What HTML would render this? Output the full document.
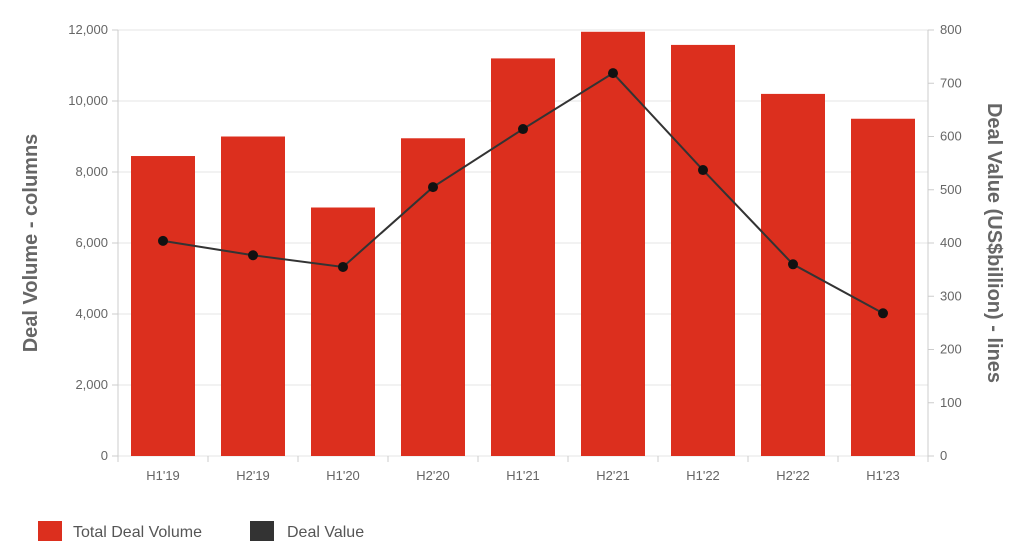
<!DOCTYPE html>
<html><head><meta charset="utf-8"><style>
body{margin:0;background:#fff;font-family:"Liberation Sans",sans-serif;}
svg text{font-family:"Liberation Sans",sans-serif;}
</style></head><body>
<svg id="chart" width="1024" height="552"></svg>
<script>
const categories=["H1'19","H2'19","H1'20","H2'20","H1'21","H2'21","H1'22","H2'22","H1'23"];
const volumeValues=[8450,9000,7000,8950,11200,11950,11580,10200,9500];
const dealValues=[404,377,355,505,614,719,537,360,268];
const leftTicks=[0,2000,4000,6000,8000,10000,12000];
const rightTicks=[0,100,200,300,400,500,600,700,800];
const NS="http://www.w3.org/2000/svg";
const svg=document.getElementById('chart');
const L=118,R=928,T=30,B=456;
const band=(R-L)/categories.length;
const xC=i=>L+band*(i+0.5);
const yL=v=>B-(v/12000)*(B-T);
const yR=v=>B-(v/800)*(B-T);
function mk(tag,attrs,name,txt){const e=document.createElementNS(NS,tag);for(const k in attrs)e.setAttribute(k,attrs[k]);


if(txt!==undefined)e.textContent=txt;svg.appendChild(e);return e;}
leftTicks.forEach(t=>{mk('line',{x1:L,x2:R,y1:yL(t),y2:yL(t),stroke:'#e6e6e6','stroke-width':1},'gridline');
mk('line',{x1:L-6,x2:L,y1:yL(t),y2:yL(t),stroke:'#ccc'},'left-tick');
mk('text',{x:L-10,y:yL(t)+4,'text-anchor':'end','font-size':13,fill:'#666'},'left-tick-label',t.toLocaleString('en-US'));});
rightTicks.forEach(t=>{mk('line',{x1:R,x2:R+6,y1:yR(t),y2:yR(t),stroke:'#ccc'},'right-tick');
mk('text',{x:R+12,y:yR(t)+4,'font-size':13,fill:'#666'},'right-tick-label',String(t));});
mk('line',{x1:L,x2:L,y1:T,y2:B,stroke:'#ccc'},'left-axis');
mk('line',{x1:R,x2:R,y1:T,y2:B,stroke:'#ccc'},'right-axis');
categories.forEach((c,i)=>{mk('line',{x1:L+band*i,x2:L+band*i,y1:B,y2:B+6,stroke:'#ccc'},'x-tick');
mk('rect',{x:xC(i)-32,y:yL(volumeValues[i]),width:64,height:B-yL(volumeValues[i]),fill:'#dc2f1e'},'bar-'+c);
mk('text',{x:xC(i),y:B+24,'text-anchor':'middle','font-size':13,fill:'#666'},'x-tick-label',c);});
mk('line',{x1:R,x2:R,y1:B,y2:B+6,stroke:'#ccc'},'x-tick');
mk('polyline',{points:dealValues.map((v,i)=>xC(i)+','+yR(v)).join(' '),fill:'none',stroke:'#333','stroke-width':2},'deal-value-line');
dealValues.forEach((v,i)=>mk('circle',{cx:xC(i),cy:yR(v),r:5,fill:'#111'},'deal-value-point'));
mk('text',{x:0,y:0,transform:'translate(37,243) rotate(-90)','text-anchor':'middle','font-size':20,'font-weight':'bold',fill:'#666'},'y-axis-title-left','Deal Volume - columns');
mk('text',{x:0,y:0,transform:'translate(988,243) rotate(90)','text-anchor':'middle','font-size':20,'font-weight':'bold',fill:'#666'},'y-axis-title-right','Deal Value (US$billion) - lines');
mk('rect',{x:38,y:521,width:24,height:20,fill:'#dc2f1e'},'legend-volume-swatch');
mk('text',{x:73,y:537,'font-size':16,fill:'#555'},'legend-volume-label','Total Deal Volume');
mk('rect',{x:250,y:521,width:24,height:20,fill:'#333'},'legend-value-swatch');
mk('text',{x:287,y:537,'font-size':16,fill:'#555'},'legend-value-label','Deal Value');
</script>
</body></html>
